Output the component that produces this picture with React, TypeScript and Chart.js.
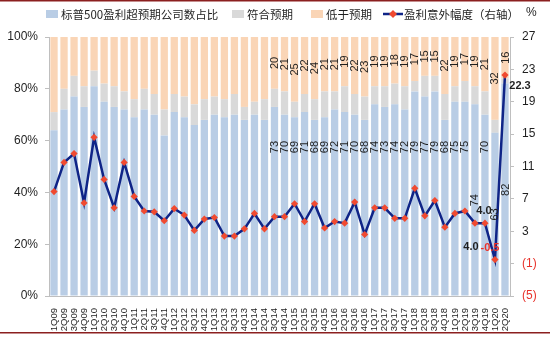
import { useEffect, useRef } from "react";
import { Chart, registerables } from "chart.js";

Chart.register(...registerables);

const categories = [
  "1Q09","2Q09","3Q09","4Q09","1Q10","2Q10","3Q10","4Q10","1Q11","2Q11","3Q11","4Q11",
  "1Q12","2Q12","3Q12","4Q12","1Q13","2Q13","3Q13","4Q13","1Q14","2Q14","3Q14","4Q14",
  "1Q15","2Q15","3Q15","4Q15","1Q16","2Q16","3Q16","4Q16","1Q17","2Q17","3Q17","4Q17",
  "1Q18","2Q18","3Q18","4Q18","1Q19","2Q19","3Q19","4Q19","1Q20","2Q20",
];

// 标普500盈利超预期公司数占比 (%)
const beatPct = [
  64, 72, 77, 73, 81, 75, 73, 72, 69, 72, 70, 62,
  71, 69, 66, 68, 70, 69, 70, 68, 70, 68, 73, 70,
  69, 71, 68, 69, 72, 71, 70, 68, 74, 73, 74, 72,
  79, 77, 79, 68, 75, 75, 74, 70, 63, 82,
];

// 符合预期 (%)
const inlinePct = [
  7, 8, 8, 8, 6, 7, 8, 7, 7, 8, 8, 10,
  7, 8, 8, 8, 7, 7, 8, 5, 5, 8, 7, 9,
  6, 7, 8, 10, 7, 10, 8, 9, 7, 8, 8, 9,
  4, 8, 6, 10, 6, 8, 7, 9, 5, 2,
];

// 低于预期 (%)
const missPct = [
  29, 20, 15, 19, 13, 18, 19, 21, 24, 20, 22, 28,
  22, 23, 26, 24, 23, 24, 22, 27, 25, 24, 20, 21,
  25, 22, 24, 21, 21, 19, 22, 23, 19, 19, 18, 19,
  17, 15, 15, 22, 19, 17, 19, 21, 32, 16,
];

// 盈利意外幅度（右轴）(%)
const surprise = [
  7.9, 11.5, 12.6, 6.5, 14.6, 9.4, 5.9, 11.5, 7.3, 5.5, 5.4, 4.3,
  5.8, 5.0, 3.1, 4.5, 4.7, 2.4, 2.4, 3.3, 5.2, 3.3, 4.8, 4.8,
  6.4, 4.2, 6.4, 3.4, 4.2, 4.0, 6.6, 2.6, 5.9, 5.9, 4.6, 4.6,
  8.3, 4.9, 6.8, 3.5, 5.2, 5.5, 4.0, 4.0, -0.5, 22.3,
];

const surpriseLabels: Record<number, string> = {
  42: "4.0",
  43: "4.0",
  44: "-0.5",
  45: "22.3",
};

const barLabelFrom = 22;

const legendNames = ["标普500盈利超预期公司数占比", "符合预期", "低于预期", "盈利意外幅度（右轴）"];

const BLUE = "#B9CDE5";
const GRAY = "#D9D9D9";
const ORANGE = "#FAD5B6";
const NAVY = "#0F2487";
const RED = "#F04A30";
const NEG_RED = "#E8322B";
const DARK_RED = "#8B1F1F";
const TEXT = "#1F1F1F";
const SANS = "'Liberation Sans', Arial, sans-serif";
const CJK = "'Noto Sans CJK SC', sans-serif";

function drawRotated(ctx: CanvasRenderingContext2D, text: string, x: number, y: number) {
  ctx.save();
  ctx.translate(x, y);
  ctx.rotate(-Math.PI / 2);
  ctx.fillText(text, 0, 0);
  ctx.restore();
}

const decorPlugin = {
  id: "decor",
  afterDraw(chart: any) {
    const ctx: CanvasRenderingContext2D = chart.ctx;
    ctx.save();
    // top and bottom rules
    ctx.fillStyle = DARK_RED;
    ctx.fillRect(0, 0, chart.width, 1.5);
    ctx.fillRect(0, 332, chart.width, 1.5);

    // legend
    const ly = 14;
    ctx.font = `11.5px ${CJK}`;
    ctx.textBaseline = "middle";
    ctx.textAlign = "left";
    const boxColors = [BLUE, GRAY, ORANGE];
    const xs = [46, 232, 311, 383];
    for (let k = 0; k < 3; k++) {
      ctx.fillStyle = boxColors[k];
      ctx.fillRect(xs[k], ly - 4, 12, 8);
      ctx.fillStyle = TEXT;
      ctx.fillText(legendNames[k], xs[k] + 15, ly + 0.5);
    }
    ctx.strokeStyle = NAVY;
    ctx.lineWidth = 2.5;
    ctx.beginPath();
    ctx.moveTo(xs[3], ly);
    ctx.lineTo(xs[3] + 20, ly);
    ctx.stroke();
    ctx.fillStyle = RED;
    ctx.beginPath();
    ctx.moveTo(xs[3] + 10, ly - 4);
    ctx.lineTo(xs[3] + 14, ly);
    ctx.lineTo(xs[3] + 10, ly + 4);
    ctx.lineTo(xs[3] + 6, ly);
    ctx.closePath();
    ctx.fill();
    ctx.fillStyle = TEXT;
    ctx.fillText(legendNames[3], xs[3] + 21, ly + 0.5);

    ctx.font = `12px ${SANS}`;
    ctx.fillText("%", 526, ly - 1);
    ctx.restore();
  },
  afterDatasetsDraw(chart: any) {
    const ctx: CanvasRenderingContext2D = chart.ctx;
    const xs = chart.scales.x;
    const ys = chart.scales.y;
    const y1 = chart.scales.y1;
    ctx.save();
    ctx.font = `11px ${SANS}`;
    ctx.fillStyle = TEXT;
    ctx.textAlign = "center";
    ctx.textBaseline = "middle";
    const centered = new Set([42, 44, 45]);
    for (let i = barLabelFrom; i < categories.length; i++) {
      const cx = xs.getPixelForValue(i);
      const oMid = beatPct[i] + inlinePct[i] + missPct[i] / 2;
      drawRotated(ctx, String(missPct[i]), cx + 0.5, ys.getPixelForValue(oMid));
      const bLevel = centered.has(i) ? beatPct[i] / 2 : 57.5;
      drawRotated(ctx, String(beatPct[i]), cx + 0.5, ys.getPixelForValue(bLevel));
    }
    // line labels
    const offsets: Record<number, [number, number]> = {
      42: [-4, 24],
      43: [-1, -12],
      44: [-5, -12],
      45: [15, 11],
    };
    ctx.font = `bold 11px ${SANS}`;
    Object.keys(surpriseLabels).forEach((key) => {
      const i = Number(key);
      const [dx, dy] = offsets[i] || [0, -12];
      const px = xs.getPixelForValue(i) + dx;
      const py = y1.getPixelForValue(surprise[i]) + dy;
      ctx.fillStyle = surprise[i] < 0 ? NEG_RED : TEXT;
      ctx.fillText(surpriseLabels[i], px, py);
    });
    ctx.restore();
  },
};

export default function App() {
  const ref = useRef<HTMLCanvasElement | null>(null);

  useEffect(() => {
    if (!ref.current) return;
    Chart.defaults.font.family = SANS;
    const chart = new Chart(ref.current, {
      type: "bar",
      data: {
        labels: categories,
        datasets: [
          {
            type: "line",
            label: legendNames[3],
            data: surprise,
            yAxisID: "y1",
            borderColor: NAVY,
            borderWidth: 2.5,
            pointStyle: "rectRot",
            pointRadius: 3.6,
            pointBackgroundColor: RED,
            pointBorderColor: RED,
            pointBorderWidth: 0,
            tension: 0,
            order: 0,
          } as any,
          {
            label: legendNames[0],
            data: beatPct,
            backgroundColor: BLUE,
            yAxisID: "y",
            stack: "s",
            order: 1,
          },
          {
            label: legendNames[1],
            data: inlinePct,
            backgroundColor: GRAY,
            yAxisID: "y",
            stack: "s",
            order: 1,
          },
          {
            label: legendNames[2],
            data: missPct,
            backgroundColor: ORANGE,
            yAxisID: "y",
            stack: "s",
            order: 1,
          },
        ],
      },
      options: {
        animation: false,
        responsive: false,
        maintainAspectRatio: false,
        datasets: {
          bar: { barPercentage: 0.73, categoryPercentage: 1 },
        },
        layout: { padding: { top: 37, left: 0, right: 0, bottom: 0 } },
        plugins: {
          legend: { display: false },
          tooltip: { enabled: false },
        },
        scales: {
          x: {
            stacked: true,
            grid: { display: false },
            border: { display: true, color: "#BFBFBF", width: 1 },
            ticks: {
              autoSkip: false,
              minRotation: 90,
              maxRotation: 90,
              padding: 4,
              color: TEXT,
              font: { size: 9.5, family: SANS },
            },
            afterFit(s: any) {
              s.height = 41;
            },
          },
          y: {
            stacked: true,
            position: "left",
            min: 0,
            max: 100,
            grid: { display: true, drawOnChartArea: false, drawTicks: true, tickLength: 4, color: "#BFBFBF" },
            border: { display: true, color: "#BFBFBF", width: 1 },
            ticks: {
              stepSize: 20,
              padding: 7,
              color: TEXT,
              font: { size: 12, family: SANS },
              callback: (v: any) => `${v}%`,
            },
            afterFit(s: any) {
              s.width = 49;
            },
          },
          y1: {
            position: "right",
            min: -5,
            max: 27,
            grid: { display: true, drawOnChartArea: false, drawTicks: true, tickLength: 4, color: "#BFBFBF" },
            border: { display: true, color: "#BFBFBF", width: 1 },
            ticks: {
              stepSize: 4,
              padding: 8,
              font: { size: 12, family: SANS },
              color: (c: any) => (c.tick && c.tick.value < 0 ? NEG_RED : TEXT),
              callback: (v: any) => (Number(v) < 0 ? `(${-Number(v)})` : `${v}`),
            },
            afterFit(s: any) {
              s.width = 40;
            },
          },
        },
      },
      plugins: [decorPlugin],
    });
    return () => chart.destroy();
  }, []);

  return (
    <div style={{ position: "fixed", left: 0, top: 0, width: 550, height: 337, background: "#fff" }}>
      <canvas ref={ref} width={550} height={337} style={{ display: "block" }} />
    </div>
  );
}
